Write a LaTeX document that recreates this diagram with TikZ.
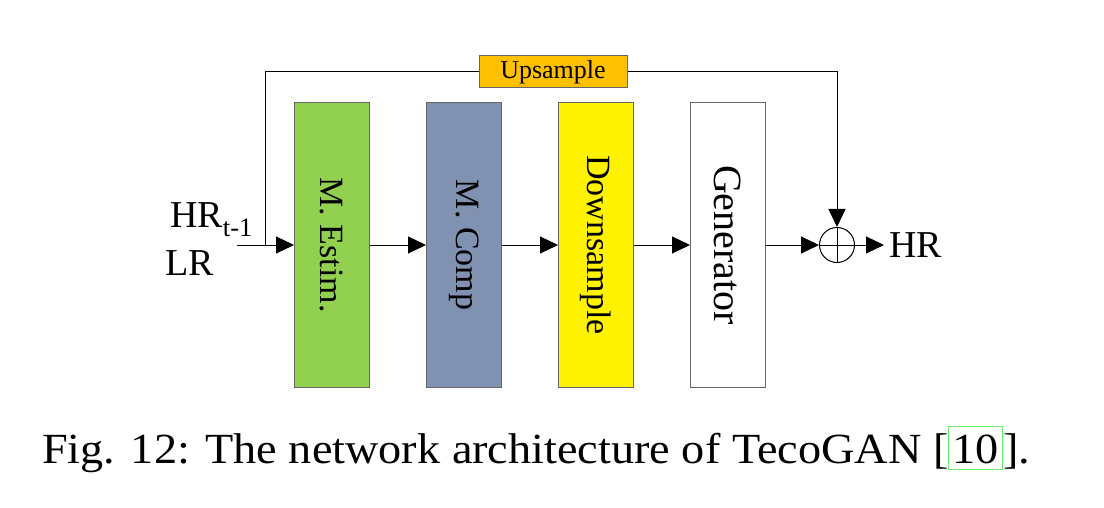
\documentclass[tikz,border=0pt]{standalone}
\usepackage{fontspec}
\setmainfont{Liberation Serif}
\usepackage{graphicx}
\usetikzlibrary{positioning,arrows.meta}
\definecolor{estimgreen}{HTML}{92D050}
\definecolor{compblue}{HTML}{8091B1}
\definecolor{upsorange}{HTML}{FFC000}
\definecolor{citegreen}{RGB}{100,240,100}
\newcommand{\fsize}[1]{\fontsize{#1}{#1}\selectfont}
\newcommand{\citebox}[1]{{\setlength{\fboxsep}{3pt}\setlength{\fboxrule}{1pt}\fcolorbox{citegreen}{white}{\rule[-3pt]{0pt}{36pt}#1}}}

\begin{document}
\begin{tikzpicture}[x=1pt, y=-1pt, node distance=56pt,
    block/.style={draw=black!60, line width=1pt, minimum width=75pt, minimum height=285pt, inner sep=0pt, font=\fsize{34}},
    label/.style={anchor=base west, inner sep=0pt, font=\fsize{38}},
    flow/.style={-{Triangle[length=18pt,width=17pt]}, line width=1pt}]
    \useasboundingbox (0,0) rectangle (1104,508);
    % the four stages
    \node[block, fill=estimgreen] (estim) at (332,245) {\rotatebox{-90}{M. Estim.}};
    \node[block, fill=compblue, right=of estim] (comp) {\rotatebox{-90}{M. Comp}};
    \node[block, fill=yellow, right=of comp] (down) {\rotatebox{-90}{Downsample}};
    \node[block, fill=white, right=of down, font=\fsize{40}] (gen) {\rotatebox{-90}{Generator}};
    \node[draw=black!60, line width=1pt, fill=upsorange, minimum width=148pt, minimum height=32pt, inner sep=0pt, font=\fsize{26}] (ups) at (553,72) {Upsample};
    \node[circle, draw, line width=1pt, minimum size=35pt, inner sep=0pt] (add) at (837,245) {};
    \draw[line width=1pt] (add.north) -- (add.south) (add.west) -- (add.east);
    % inputs and output
    \node[label] (hrprev) at (170,228) {HR\textsubscript{t-1}};
    \node[label] (lr) at (165,275) {LR};
    \node[label] (hr) at (889,258) {HR};
    \coordinate (in) at (237,245);
    \coordinate (split) at (265,245);
    \draw[flow] (in) -- (estim);
    \foreach \a/\b in {estim/comp, comp/down, down/gen, gen/add}
        \draw[flow] (\a) -- (\b);
    \draw[line width=1pt] (split) |- (ups);
    \draw[flow] (ups) -| (add);
    \draw[flow, shorten >=5pt] (add) -- (add -| hr.west);
    % caption
    \node[label, font=\fsize{43}] (caption) at (42,463) {\resizebox{988pt}{\height}{Fig. 12: The network architecture of TecoGAN [\citebox{10}].}};
\end{tikzpicture}
\end{document}
